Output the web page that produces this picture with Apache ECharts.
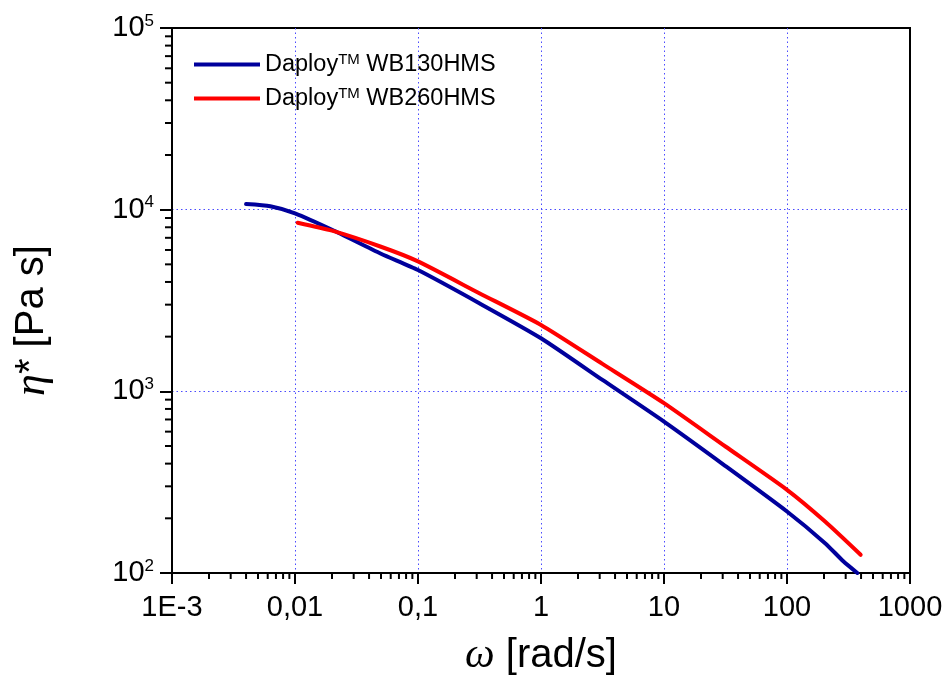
<!DOCTYPE html>
<html>
<head>
<meta charset="utf-8">
<script src="https://cdn.jsdelivr.net/npm/echarts@6/dist/echarts.min.js"></script>
<style>html,body{margin:0;padding:0;background:#fff}#c{width:949px;height:690px}</style>
</head>
<body>
<div id="c"></div>
<script>
// ---- data ----
const seriesNames = ['WB130HMS', 'WB260HMS'];
const omega130 = [0.004, 0.0063, 0.01, 0.02, 0.05, 0.1, 0.315, 1, 3.16, 10, 31.6, 100, 204, 287, 373];
const eta130   = [10740, 10450, 9550, 7750, 5720, 4650, 3055, 1960, 1155, 681, 388, 218, 146, 116, 100];
const omega260 = [0.0105, 0.02, 0.05, 0.1, 0.315, 1, 3.16, 10, 31.6, 100, 204, 397];
const eta260   = [8470, 7660, 6250, 5190, 3470, 2320, 1416, 861, 497, 287, 192, 126];
const xTickLabels = ['1E-3', '0,01', '0,1', '1', '10', '100', '1000'];
const minorMantissas = [2, 3, 4, 5, 6, 7, 8, 9];

const FONT = "'Liberation Sans', Arial, sans-serif";
const SERIF = "'Liberation Serif', 'DejaVu Serif', serif";
const chart = echarts.init(document.getElementById('c'), null, {renderer: 'canvas'});

function pairs(xs, ys) { return xs.map((x, i) => [x, ys[i]]); }
const xMinor = [];
for (let e = -3; e < 3; e++) minorMantissas.forEach(m => xMinor.push([m * Math.pow(10, e), 100]));
const yMinor = [];
for (let e = 2; e < 5; e++) minorMantissas.forEach(m => yMinor.push([0.001, m * Math.pow(10, e)]));

function tickRender(dir, len) {
  return function (params, api) {
    const p = api.coord([api.value(0), api.value(1)]);
    const shape = dir === 'x'
      ? {x1: p[0], y1: p[1], x2: p[0], y2: p[1] + len}
      : {x1: p[0], y1: p[1], x2: p[0] - len, y2: p[1]};
    return {type: 'line', shape: shape, style: {stroke: '#000', lineWidth: 2}};
  };
}

const gridLine = {show: true, showMinLine: false, showMaxLine: false,
  lineStyle: {color: '#4b4bff', type: [1.5, 3], width: 1}};

const option = {
  backgroundColor: '#fff',
  animation: false,
  grid: {left: 172, right: 39, top: 28, bottom: 117, show: true, borderColor: '#000', borderWidth: 2, backgroundColor: 'transparent'},
  legend: {
    data: seriesNames.map(n => ({name: n, icon: 'rect'})),
    orient: 'vertical', left: 189, top: 47, itemWidth: 66, itemHeight: 4, itemGap: 7,
    formatter: n => 'Daploy{sup|TM} ' + n,
    textStyle: {fontFamily: FONT, fontSize: 23.5, color: '#000', lineHeight: 25,
      rich: {sup: {fontFamily: FONT, fontSize: 15, verticalAlign: 'top', lineHeight: 15, padding: [0, 0, 12, 0]}}}
  },
  xAxis: {
    type: 'log', logBase: 10, min: 0.001, max: 1000,
    name: '{w|ω} [rad/s]', nameLocation: 'middle', nameGap: 62,
    nameTextStyle: {fontFamily: FONT, fontSize: 40, color: '#000',
      rich: {w: {fontFamily: SERIF, fontStyle: 'italic', fontSize: 42, color: '#000'}}},
    axisLine: {show: true, lineStyle: {color: '#000', width: 2}},
    axisTick: {show: true, inside: false, length: 11, lineStyle: {color: '#000', width: 2}},
    axisLabel: {fontFamily: FONT, fontSize: 29, color: '#000', margin: 20,
      formatter: v => xTickLabels[Math.round(Math.log10(v)) + 3]},
    splitLine: gridLine,
    minorTick: {show: false}
  },
  yAxis: {
    type: 'log', logBase: 10, min: 100, max: 100000,
    name: '{e|η}* [Pa s]', nameLocation: 'middle', nameGap: 118,
    nameTextStyle: {fontFamily: FONT, fontSize: 40, color: '#000', padding: [0, 40, 0, 0],
      rich: {e: {fontFamily: SERIF, fontStyle: 'italic', fontSize: 44, color: '#000'}}},
    axisLine: {show: true, lineStyle: {color: '#000', width: 2}},
    axisTick: {show: true, inside: false, length: 12, lineStyle: {color: '#000', width: 2}},
    axisLabel: {fontFamily: FONT, fontSize: 29, color: '#000', margin: 18,
      formatter: v => '10{sup|' + Math.round(Math.log10(v)) + '}',
      rich: {sup: {fontFamily: FONT, fontSize: 17, verticalAlign: 'top', padding: [0, 0, 14, 0]}}},
    splitLine: gridLine
  },
  series: [
    {name: seriesNames[0], type: 'line', data: pairs(omega130, eta130), showSymbol: false, smooth: 0.2,
      lineStyle: {color: '#00009c', width: 4, cap: 'round'}, itemStyle: {color: '#00009c'}, z: 5},
    {name: seriesNames[1], type: 'line', data: pairs(omega260, eta260), showSymbol: false, smooth: 0.2,
      lineStyle: {color: '#ff0000', width: 4, cap: 'round'}, itemStyle: {color: '#ff0000'}, z: 6},
    {type: 'custom', data: xMinor, renderItem: tickRender('x', 6), clip: false, silent: true, z: 10},
    {type: 'custom', data: yMinor, renderItem: tickRender('y', 7), clip: false, silent: true, z: 10}
  ]
};
chart.setOption(option);
</script>
</body>
</html>
